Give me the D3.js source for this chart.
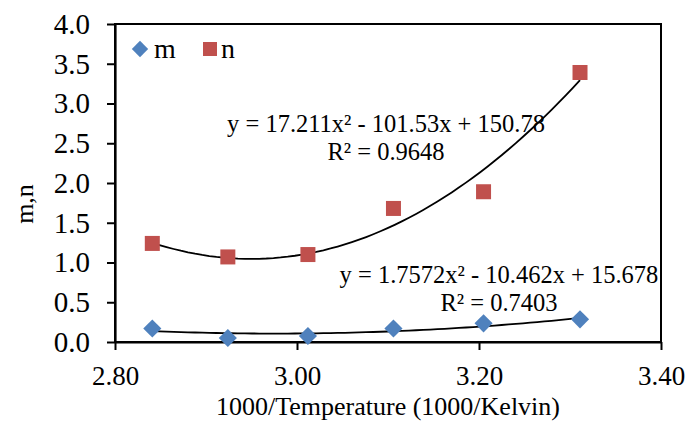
<!DOCTYPE html>
<html>
<head>
<meta charset="utf-8">
<script src="https://cdn.jsdelivr.net/npm/d3@7"></script>
<style>
  body { margin: 0; background: #fff; }
  svg text { font-family: "Liberation Serif", "Times New Roman", Times, "DejaVu Serif", serif; fill: #000; }
</style>
</head>
<body>
<div id="chart"></div>
<script>
// x values: 1000/T
const invTemp = [2.841, 2.924, 3.012, 3.106, 3.205, 3.311];
// series values
const mValues = [0.17, 0.05, 0.075, 0.17, 0.235, 0.285];
const nValues = [1.24, 1.07, 1.10, 1.68, 1.89, 3.39];
// trendline coefficients as printed on the chart [a, b, c] -> a*x^2 + b*x + c
const mFit = [1.7572, -10.462, 15.678];
const nFit = [17.211, -101.53, 150.78];
const mLabel = ["y = 1.7572x\u00B2 - 10.462x + 15.678", "R\u00B2 = 0.7403"];
const nLabel = ["y = 17.211x\u00B2 - 101.53x + 150.78", "R\u00B2 = 0.9648"];
const xTicks = [2.8, 3.0, 3.2, 3.4];
const yTicks = [0, 0.5, 1, 1.5, 2, 2.5, 3, 3.5, 4];

const width = 691,
  height = 422,
  margin = { top: 24, right: 30, bottom: 80, left: 115 };

const blue = "#4F81BD",
  red = "#C0504D",
  serif = "'Liberation Serif', 'Times New Roman', Times, 'DejaVu Serif', serif";

const svg = d3.select("#chart").append("svg")
  .attr("width", width)
  .attr("height", height);

const x = d3.scaleLinear()
  .domain([2.8, 3.4])
  .range([margin.left, width - margin.right]);
const y = d3.scaleLinear()
  .domain([0, 4])
  .range([height - margin.bottom, margin.top]);

// plot border (top + right)
svg.append("rect")
  .attr("x", x(2.8))
  .attr("y", y(4))
  .attr("width", x(3.4) - x(2.8))
  .attr("height", y(0) - y(4))
  .attr("fill", "none")
  .attr("stroke", "#000")
  .attr("stroke-width", 2);

// axes
const styleAxis = (size) => (g) => {
  g.attr("font-family", serif)
    .attr("font-size", size);
  g.selectAll("text").attr("font-family", serif);
  g.select(".domain").attr("stroke-width", 2.2);
  g.selectAll(".tick line").attr("stroke-width", 2);
};

svg.append("g")
  .attr("transform", `translate(0,${y(0)})`)
  .call(d3.axisBottom(x)
    .tickValues(xTicks)
    .tickFormat(d3.format(".2f"))
    .tickSize(8)
    .tickSizeOuter(0)
    .tickPadding(16))
  .call(styleAxis(27));

svg.append("g")
  .attr("transform", `translate(${x(2.8)},0)`)
  .call(d3.axisLeft(y)
    .tickValues(yTicks)
    .tickFormat(d3.format(".1f"))
    .tickSize(8)
    .tickSizeOuter(0)
    .tickPadding(17))
  .call(styleAxis(29));

// axis titles
svg.append("text")
  .attr("x", (x(2.8) + x(3.4)) / 2)
  .attr("y", 415)
  .attr("text-anchor", "middle")
  .attr("font-family", serif)
  .attr("font-size", 26)
  .text("1000/Temperature (1000/Kelvin)");

svg.append("text")
  .attr("transform", "translate(33,204) rotate(-90)")
  .attr("text-anchor", "middle")
  .attr("font-family", serif)
  .attr("font-size", 26)
  .text("m,n");

// trendlines from the printed equations
const quad = (c) => (v) => c[0] * v * v + c[1] * v + c[2];
const xs = d3.range(0, 61).map(i => invTemp[0] + (invTemp[5] - invTemp[0]) * i / 60);
const line = d3.line()
  .x(d => x(d[0]))
  .y(d => y(d[1]));

[mFit, nFit].forEach(c => {
  const f = quad(c);
  svg.append("path")
    .datum(xs.map(v => [v, f(v)]))
    .attr("d", line)
    .attr("fill", "none")
    .attr("stroke", "#000")
    .attr("stroke-width", 1.8);
});

// markers
const diamond = d3.symbol().type(d3.symbolDiamond2).size(210);
svg.selectAll(".m")
  .data(invTemp.map((v, i) => [v, mValues[i]]))
  .enter().append("path")
  .attr("class", "m")
  .attr("d", diamond)
  .attr("transform", d => `translate(${x(d[0])},${y(d[1])})`)
  .attr("fill", blue);

const sq = 15;
svg.selectAll(".n")
  .data(invTemp.map((v, i) => [v, nValues[i]]))
  .enter().append("rect")
  .attr("class", "n")
  .attr("x", d => x(d[0]) - sq / 2)
  .attr("y", d => y(d[1]) - sq / 2)
  .attr("width", sq)
  .attr("height", sq)
  .attr("fill", red);

// equation labels
const drawLabel = (lines, cx, y0) => {
  lines.forEach((t, i) => {
    svg.append("text")
      .attr("x", cx)
      .attr("y", y0 + i * 28)
      .attr("text-anchor", "middle")
      .attr("font-family", serif)
      .attr("font-size", 24.5)
      .text(t);
  });
};
drawLabel(nLabel, 386, 132);
drawLabel(mLabel, 499, 283);

// legend
svg.append("path")
  .attr("d", d3.symbol().type(d3.symbolDiamond2).size(170))
  .attr("transform", "translate(140,49)")
  .attr("fill", blue);
svg.append("text")
  .attr("x", 154)
  .attr("y", 58)
  .attr("font-family", serif)
  .attr("font-size", 28)
  .text("m");
svg.append("rect")
  .attr("x", 203)
  .attr("y", 42)
  .attr("width", 14)
  .attr("height", 14)
  .attr("fill", red);
svg.append("text")
  .attr("x", 221)
  .attr("y", 58)
  .attr("font-family", serif)
  .attr("font-size", 28)
  .text("n");
</script>
</body>
</html>
